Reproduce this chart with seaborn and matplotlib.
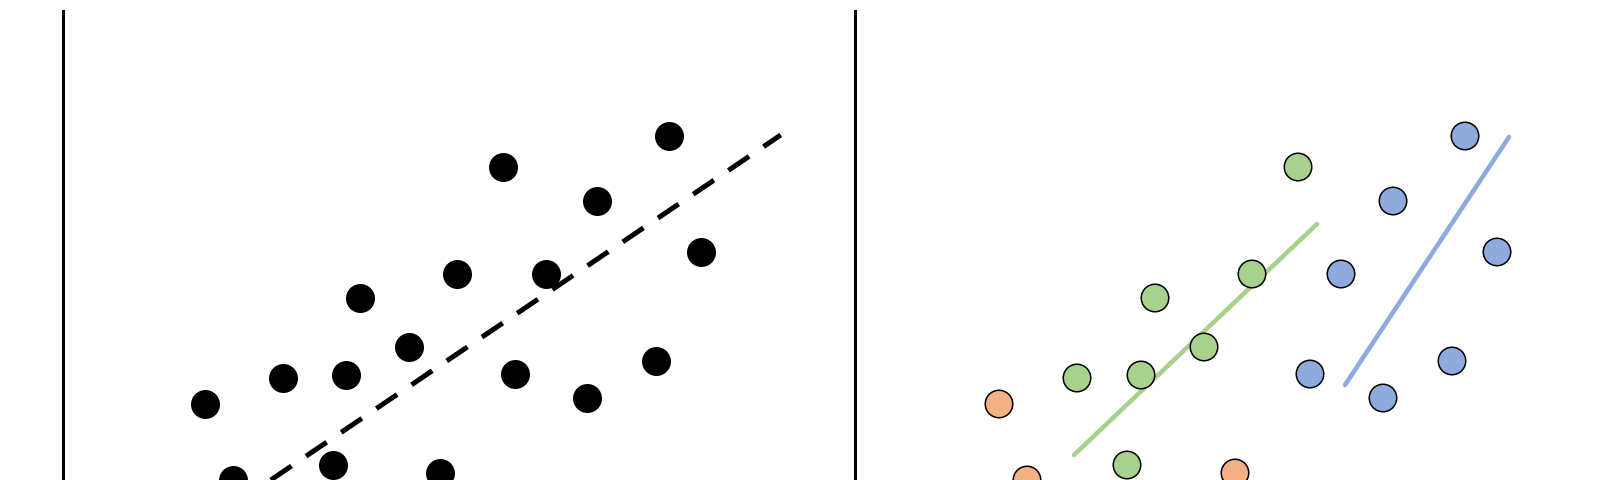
import numpy as np
import pandas as pd
import matplotlib
matplotlib.use("Agg")
import matplotlib.pyplot as plt
import seaborn as sns

# point values (same cloud in both panels)
x_vals = [14.4, 17.2, 22.2, 27.2, 28.6, 30.0, 34.9, 38.0, 39.7, 44.3,
          45.5, 48.6, 52.8, 53.8, 59.7, 61.0, 64.2]
y_vals = [7.6, 0.0, 10.2, 1.5, 10.5, 18.2, 13.3, 0.7, 20.6, 31.3,
          10.6, 20.6, 8.2, 27.9, 11.9, 34.4, 22.8]
groups = ['a', 'a', 'b', 'b', 'b', 'b', 'b', 'a', 'b', 'b',
          'c', 'c', 'c', 'c', 'c', 'c', 'c']

# fitted lines (end points)
all_line_x = [21.0, 72.2]
all_line_y = [0.0, 34.5]
green_line_x = [21.9, 46.2]
green_line_y = [2.5, 25.6]
blue_line_x = [49.0, 65.4]
blue_line_y = [9.5, 34.3]

palette = {'a': '#F4B183', 'b': '#A9D18E', 'c': '#8FAADC'}

df = pd.DataFrame({'x': x_vals, 'y': y_vals, 'group': groups})

sns.set_style('white')
fig = plt.figure(figsize=(16, 4.8), dpi=100)
ax1 = fig.add_axes([63 / 1600, 0, 772 / 1600, 469 / 480])
ax2 = fig.add_axes([855 / 1600, 0, 745 / 1600, 469 / 480])

# left panel: one cloud, one dashed trend
sns.lineplot(x=all_line_x, y=all_line_y, ax=ax1, color='black',
             linewidth=3.6, linestyle=(0, (5, 3.5)), zorder=1)
sns.scatterplot(data=df, x='x', y='y', ax=ax1, color='black', s=436,
                linewidth=0, zorder=2, legend=False)

# right panel: groups with their own trends
sns.lineplot(x=green_line_x, y=green_line_y, ax=ax2, color='#A9D18E',
             linewidth=3.3, zorder=1)
sns.lineplot(x=blue_line_x, y=blue_line_y, ax=ax2, color='#8FAADC',
             linewidth=3.3, zorder=1)
sns.scatterplot(data=df, x='x', y='y', hue='group', palette=palette, ax=ax2,
                s=392, edgecolor='black', linewidth=1.1, zorder=2, legend=False)

for ax, lim in [(ax1, (0.14, 77.65)), (ax2, (0, 74.5))]:
    ax.set_xlim(*lim)
    ax.set_ylim(0, 46.9)
    ax.set_xticks([])
    ax.set_yticks([])
    ax.set_xlabel('')
    ax.set_ylabel('')
    for side in ['top', 'right', 'bottom']:
        ax.spines[side].set_visible(False)
    ax.spines['left'].set_color('black')
    ax.spines['left'].set_linewidth(2.2)
    ax.patch.set_alpha(0)

fig.savefig('out.png', dpi=100)
